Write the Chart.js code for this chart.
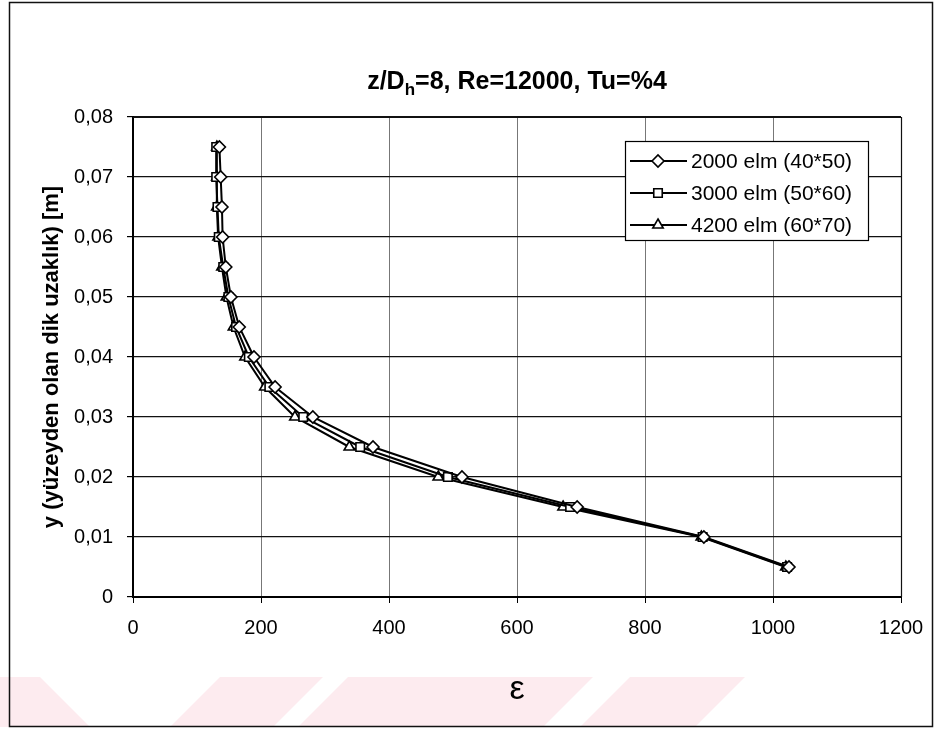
<!DOCTYPE html>
<html>
<head>
<meta charset="utf-8">
<script src="https://cdn.jsdelivr.net/npm/chart.js@4.4.1/dist/chart.umd.min.js"></script>
<style>
  html, body { margin: 0; padding: 0; background: #fff; }
  #kutu { width: 940px; height: 729px; }
</style>
</head>
<body>
<div id="kutu"><canvas id="grafik" width="940" height="729"></canvas></div>
<script>
// yüzeyden dik uzaklık [m]
const mesafe = [0.075, 0.070, 0.065, 0.060, 0.055, 0.050, 0.045, 0.040,
                0.035, 0.030, 0.025, 0.020, 0.015, 0.010, 0.005];

// epsilon değerleri, her ağ için
const eps2000 = [135, 137, 139, 140, 145, 153, 166, 189, 222, 281, 375, 514, 694, 892, 1025];
const eps3000 = [130, 130, 132, 134, 141, 149, 161, 181, 213, 266, 355, 492, 683, 890, 1022];
const eps4200 = [131, 131, 131, 133, 139, 146, 157, 175, 206, 253, 338, 477, 672, 888, 1020];

const seriAdlari = ['2000 elm (40*50)', '3000 elm (50*60)', '4200 elm (60*70)'];
const isaretler = ['rectRot', 'rect', 'triangle'];

const xTikler = [0, 200, 400, 600, 800, 1000, 1200];
const yTikler = ['0', '0,01', '0,02', '0,03', '0,04', '0,05', '0,06', '0,07', '0,08'];

const yaziTipi = '"Liberation Sans", Arial, sans-serif';

const noktalar = seri => seri.map((e, i) => ({ x: e, y: mesafe[i] }));

const veriSetleri = [eps2000, eps3000, eps4200].map((seri, i) => ({
  label: seriAdlari[i],
  data: noktalar(seri),
  showLine: true,
  borderColor: '#000',
  borderWidth: 2,
  pointStyle: isaretler[i],
  pointRadius: 6,
  pointBorderWidth: 1.6,
  pointBorderColor: '#000',
  pointBackgroundColor: '#fff'
}));

// alttaki soluk pembe şeritler ve beyaz zemin
const arkaPlan = {
  id: 'arkaPlan',
  beforeDraw(chart) {
    const c = chart.ctx;
    c.save();
    c.fillStyle = '#fff';
    c.fillRect(0, 0, chart.width, chart.height);
    c.fillStyle = '#fdebef';
    const ust = 677, alt = 727, kay = 50;
    c.beginPath();
    c.moveTo(0, ust); c.lineTo(40, ust); c.lineTo(90, alt); c.lineTo(0, alt);
    c.closePath(); c.fill();
    [[220, 323], [348, 593], [630, 745]].forEach(([a, b]) => {
      c.beginPath();
      c.moveTo(a, ust); c.lineTo(b, ust); c.lineTo(b - kay, alt); c.lineTo(a - kay, alt);
      c.closePath(); c.fill();
    });
    c.restore();
  }
};

// dış çerçeve ve çizim alanının üst/sağ kenarı
const cerceve = {
  id: 'cerceve',
  afterDraw(chart) {
    const c = chart.ctx;
    const a = chart.chartArea;
    c.save();
    c.strokeStyle = '#111';
    c.lineWidth = 1.5;
    c.strokeRect(9.5, 2.5, 923, 724);
    c.lineWidth = 1.2;
    c.beginPath();
    c.moveTo(a.left, a.top + 0.5); c.lineTo(a.right + 0.5, a.top + 0.5); c.lineTo(a.right + 0.5, a.bottom);
    c.stroke();
    c.restore();
  }
};

// başlık: alt indisli D_h
const baslik = {
  id: 'baslik',
  afterDraw(chart) {
    const c = chart.ctx;
    const a = chart.chartArea;
    const parcalar = [
      { t: 'z/D', f: 'bold 25px ' + yaziTipi, dy: 0 },
      { t: 'h', f: 'bold 17px ' + yaziTipi, dy: 6 },
      { t: '=8, Re=12000, Tu=%4', f: 'bold 25px ' + yaziTipi, dy: 0 }
    ];
    c.save();
    c.fillStyle = '#000';
    c.textBaseline = 'alphabetic';
    let toplam = 0;
    parcalar.forEach(p => { c.font = p.f; p.w = c.measureText(p.t).width; toplam += p.w; });
    let x = (a.left + a.right) / 2 - toplam / 2;
    const y = 89;
    parcalar.forEach(p => { c.font = p.f; c.fillText(p.t, x, y + p.dy); x += p.w; });
    c.restore();
  }
};

// çizgi + işaretli lejant kutusu
const lejant = {
  id: 'lejant',
  afterDraw(chart) {
    const c = chart.ctx;
    const x0 = 625, y0 = 141, w = 243, h = 99;
    c.save();
    c.fillStyle = '#fff';
    c.fillRect(x0, y0, w, h);
    c.strokeStyle = '#000';
    c.lineWidth = 1.2;
    c.strokeRect(x0 + 0.5, y0 + 0.5, w, h);
    chart.data.datasets.forEach((ds, i) => {
      const y = y0 + 20 + i * 32;
      c.strokeStyle = '#000';
      c.lineWidth = 2;
      c.beginPath(); c.moveTo(x0 + 5, y); c.lineTo(x0 + 62, y); c.stroke();
      c.fillStyle = '#fff';
      c.lineWidth = 1.6;
      Chart.helpers.drawPoint(c, { pointStyle: ds.pointStyle, radius: 6, rotation: 0, borderWidth: 1.6 }, x0 + 33, y);
      c.fillStyle = '#000';
      c.font = '21px ' + yaziTipi;
      c.textBaseline = 'middle';
      c.fillText(ds.label, x0 + 66, y + 1);
    });
    c.restore();
  }
};

new Chart(document.getElementById('grafik'), {
  type: 'scatter',
  data: { datasets: veriSetleri },
  options: {
    responsive: false,
    animation: false,
    layout: { padding: { left: 38, right: 39, top: 117, bottom: 0 } },
    plugins: {
      legend: { display: false },
      tooltip: { enabled: false },
      title: { display: false }
    },
    scales: {
      x: {
        type: 'linear',
        min: 0,
        max: 1200,
        afterFit: s => { s.height = 132; },
        afterBuildTicks: s => { s.ticks = xTikler.map(v => ({ value: v })); },
        ticks: {
          color: '#000',
          padding: 13,
          maxRotation: 0,
          font: { family: yaziTipi, size: 20 },
          callback: v => String(v)
        },
        grid: {
          color: '#777',
          lineWidth: 1,
          borderDash: [5, 3, 1, 3],
          tickLength: 6,
          tickColor: '#000',
          tickBorderDash: []
        },
        border: { display: true, color: '#000', width: 2 },
        title: {
          display: true,
          text: 'ε',
          color: '#000',
          font: { family: yaziTipi, size: 34, lineHeight: 1 },
          padding: { top: 0, bottom: 22 }
        }
      },
      y: {
        type: 'linear',
        min: 0,
        max: 0.08,
        afterFit: s => { s.width = 95; },
        afterBuildTicks: s => { s.ticks = yTikler.map((_, i) => ({ value: i / 100 })); },
        ticks: {
          color: '#000',
          padding: 14,
          font: { family: yaziTipi, size: 20 },
          callback: (v, i) => yTikler[i]
        },
        grid: {
          color: '#111',
          lineWidth: 1.2,
          borderDash: [14, 3],
          tickLength: 6,
          tickColor: '#000',
          tickBorderDash: []
        },
        border: { display: true, color: '#000', width: 2 },
        title: {
          display: true,
          text: 'y (yüzeyden olan dik uzaklık) [m]',
          color: '#000',
          font: { family: yaziTipi, size: 22, weight: 'bold', lineHeight: 1.2 },
          padding: { top: 1, bottom: 0 }
        }
      }
    }
  },
  plugins: [arkaPlan, cerceve, baslik, lejant]
});
</script>
</body>
</html>
